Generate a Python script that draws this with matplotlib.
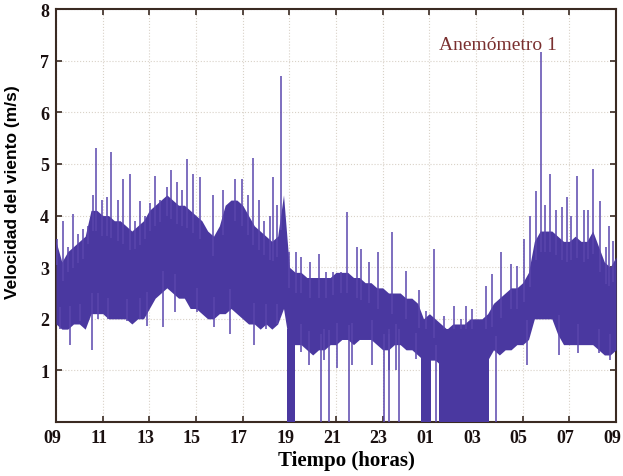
import matplotlib

matplotlib.use("Agg")
import matplotlib.pyplot as plt
import matplotlib.transforms as mtransforms
import numpy as np

# hours since 09:00, sampled every 15 min: solid body of the trace
hours = np.arange(0, 24.01, 0.25)
band_top = [
    3.5, 3.1, 3.3, 3.4, 3.5, 3.6, 4.1, 4.1, 4.0, 4.0, 3.9, 3.9,
    3.8, 3.7, 3.8, 3.9, 4.1, 4.2, 4.3, 4.4, 4.3, 4.2, 4.2, 4.1,
    4.0, 3.9, 3.7, 3.6, 3.8, 4.2, 4.3, 4.3, 4.2, 4.0, 3.8, 3.7,
    3.6, 3.5, 3.6, 4.4, 3.0, 2.9, 2.9, 2.8, 2.8, 2.8, 2.8, 2.8,
    2.9, 2.9, 2.9, 2.8, 2.8, 2.7, 2.7, 2.6, 2.6, 2.5, 2.5, 2.5,
    2.4, 2.4, 2.3, 2.0, 2.1, 2.0, 1.9, 1.8, 1.9, 1.9, 1.9, 2.0,
    2.0, 2.0, 2.1, 2.3, 2.4, 2.5, 2.6, 2.6, 2.7, 2.9, 3.5, 3.7,
    3.7, 3.7, 3.6, 3.5, 3.5, 3.6, 3.5, 3.5, 3.7, 3.4, 3.1, 3.0,
    3.2,
]
band_bottom = [
    1.9, 1.8, 1.8, 1.9, 1.9, 1.8, 2.1, 2.1, 2.1, 2.0, 2.0, 2.0,
    2.0, 1.9, 2.0, 2.0, 2.2, 2.4, 2.5, 2.6, 2.5, 2.4, 2.4, 2.2,
    2.2, 2.1, 2.0, 2.0, 2.1, 2.1, 2.2, 2.1, 2.0, 1.9, 1.9, 1.8,
    1.9, 1.8, 1.9, 2.2, 1.5, 1.5, 1.5, 1.4, 1.3, 1.4, 1.4, 1.5,
    1.5, 1.6, 1.6, 1.5, 1.6, 1.6, 1.6, 1.5, 1.4, 1.4, 1.5, 1.5,
    1.4, 1.4, 1.3, 1.2, 1.2, 1.2, 1.1, 1.1, 1.1, 1.1, 1.1, 1.1,
    1.1, 1.1, 1.2, 1.4, 1.3, 1.4, 1.4, 1.5, 1.5, 1.6, 2.0, 2.0,
    2.0, 2.0, 1.7, 1.5, 1.5, 1.5, 1.5, 1.5, 1.5, 1.4, 1.3, 1.3,
    1.4,
]

# gusts above the body (hour, m/s)
gust_hours = [
    0.04, 0.30, 0.51, 0.73, 0.94, 1.15, 1.37, 1.58, 1.71, 1.97, 2.18,
    2.35, 2.65, 2.86, 3.16, 3.38, 3.59, 3.80, 4.02, 4.23, 4.44, 4.74,
    4.91, 5.17, 5.38, 5.60, 5.85, 6.15, 6.71, 7.14, 7.65, 7.99, 8.21,
    8.46, 8.68, 8.93, 9.15, 9.32, 9.49, 9.66, 10.00, 10.30, 10.51, 10.90,
    11.28, 11.58, 11.88, 12.22, 12.48, 12.91, 13.08, 13.42, 13.80, 14.40,
    15.00, 15.56, 15.85, 16.20, 16.62, 17.05, 17.35, 17.56, 17.82, 18.42,
    18.68, 19.06, 19.49, 19.74, 20.04, 20.30, 20.56, 20.77, 20.94, 21.15,
    21.41, 21.67, 21.88, 22.09, 22.31, 22.61, 22.82, 23.03, 23.33, 23.55,
    23.68, 23.89,
]
gust_speed = [
    3.55, 3.9, 3.4, 4.03, 3.65, 3.74, 3.8, 4.4, 5.3, 4.3, 4.35,
    5.23, 4.3, 4.7, 4.8, 3.9, 4.28, 4.0, 4.25, 4.77, 4.3, 4.55,
    4.88, 4.65, 4.5, 5.1, 4.8, 4.75, 4.4, 4.5, 4.7, 4.7, 4.4,
    5.12, 4.3, 3.9, 4.0, 4.75, 4.2, 6.7, 3.3, 3.3, 3.2, 3.1,
    3.25, 2.9, 2.9, 2.9, 4.07, 3.4, 3.35, 3.1, 3.3, 3.68,
    2.93, 2.55, 2.15, 3.35, 2.05, 2.25, 2.0, 2.25, 2.19, 2.63,
    2.87, 3.3, 3.06, 3.02, 3.55, 4.0, 4.48, 7.17, 4.2, 4.8,
    4.1, 4.17, 4.36, 4.0, 4.77, 4.1, 4.1, 4.9, 4.28, 3.4,
    3.8, 3.5,
]

# short lulls below the body
lull_hours = [
    0.17, 0.60, 1.03, 1.54, 1.79, 2.22, 3.03, 3.59, 3.89, 4.57, 5.09,
    6.03, 6.79, 7.44, 8.50, 9.02, 9.49, 10.51, 10.85, 11.50, 12.05,
    12.69, 13.55, 14.27, 14.57, 15.43, 20.17, 21.54, 22.39, 23.25, 23.76,
]
lull_speed = [
    1.8, 1.5, 1.95, 1.4, 2.0, 2.0, 1.96, 2.0, 1.87, 1.84, 2.13,
    2.13, 1.85, 1.7, 1.5, 1.8, 1.9, 1.36, 1.1, 1.2, 1.05,
    1.1, 1.1, 1.0, 1.0, 1.23, 1.1, 1.3, 1.33, 1.33, 1.2,
]

# readings that fall to zero
zero_hours = [11.37, 11.71, 12.56, 14.06, 14.27, 14.70, 16.28, 18.85]
zero_blocks = [(9.91, 10.26), (15.64, 16.07), (16.41, 18.55)]

xtick_hours = list(range(0, 25, 2))
xtick_labels = ["09", "11", "13", "15", "17", "19", "21", "23", "01", "03", "05", "07", "09"]
ytick_values = [1, 2, 3, 4, 5, 6, 7, 8]

main = "#4a38a0"
spike = "#5a46ad"
frame = "#3a2a22"

plt.rcParams["font.family"] = ["Liberation Serif", "DejaVu Serif"]

fig = plt.figure(figsize=(6.23, 4.77), dpi=100)
ax = fig.add_axes([0.0899, 0.113, 0.8989, 0.866])

ax.fill_between(hours, band_bottom, band_top, color=main, linewidth=0, zorder=3)
# spikes start inside the body of the trace
gust_base = np.interp(gust_hours, hours, band_top) - 0.4
lull_base = np.interp(lull_hours, hours, band_bottom) + 0.4
zero_base = np.interp(zero_hours, hours, band_bottom) + 0.3
ax.vlines(gust_hours, gust_base, gust_speed, color=spike, linewidth=1.1, zorder=3)
ax.vlines(lull_hours, lull_speed, lull_base, color=spike, linewidth=1.1, zorder=3)
ax.vlines(zero_hours, 0, zero_base, color=spike, linewidth=1.1, zorder=3)
for start, end in zero_blocks:
    ax.bar(start, 1.8, width=end - start, bottom=0, align="edge", color=main, linewidth=0, zorder=3)

ax.set_xlim(0, 24)
ax.set_ylim(0, 8)
ax.set_xticks(xtick_hours)
ax.set_xticklabels(xtick_labels)
ax.set_yticks(ytick_values)
ax.grid(True, color="#d9d2c8", linestyle=":", linewidth=0.8, zorder=0)
ax.tick_params(direction="in", top=True, right=True, length=4, width=1.2, color=frame,
               labelsize=13, pad=5, labelcolor="#1a1010")
shift = mtransforms.ScaledTranslation(-4 / 100, 0, fig.dpi_scale_trans)
for lab in ax.get_xticklabels():
    lab.set_fontweight("bold")
    lab.set_transform(lab.get_transform() + shift)
for lab in ax.get_yticklabels():
    lab.set_fontweight("bold")
for sp in ax.spines.values():
    sp.set_color(frame)
    sp.set_linewidth(1.5)

ax.set_xlabel("Tiempo (horas)", fontsize=15, fontweight="bold")
ax.xaxis.set_label_coords(0.519, -0.068)
ax.set_ylabel("Velocidad del viento (m/s)", fontsize=12.5, fontweight="bold",
              family=["Liberation Sans", "DejaVu Sans"])
ax.yaxis.set_label_coords(-0.064, 0.56)
ax.text(0.79, 0.915, "Anemómetro 1", transform=ax.transAxes, ha="center", va="center",
        fontsize=14, color="#7a3030", zorder=4)

fig.savefig("out.png", dpi=100)
